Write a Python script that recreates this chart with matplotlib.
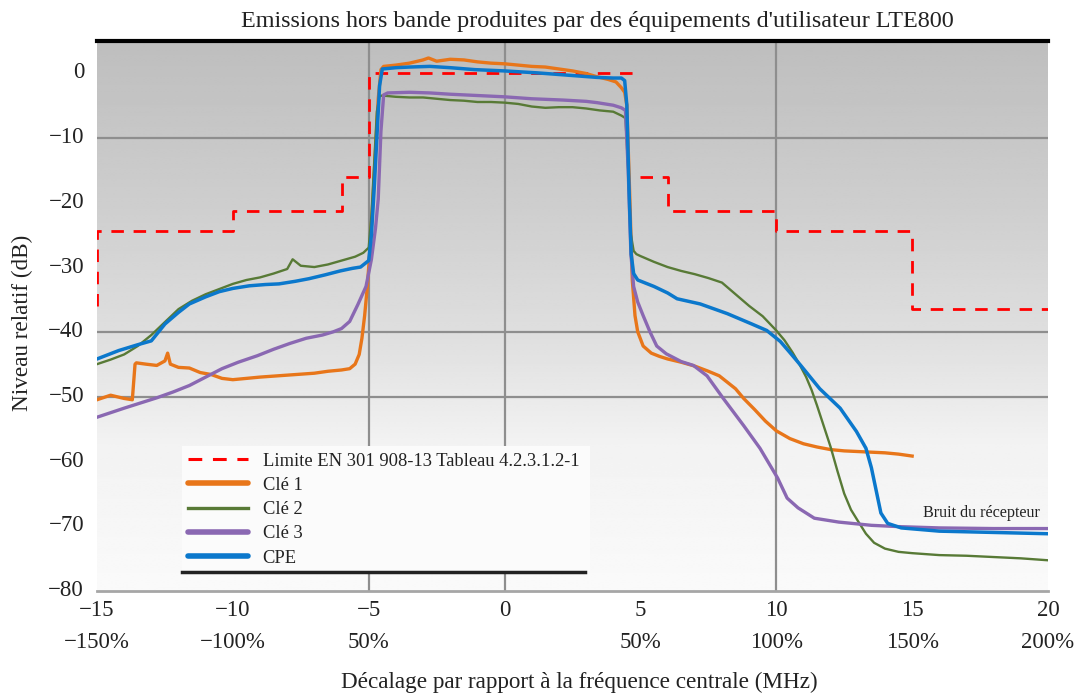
import numpy as np
import matplotlib
matplotlib.use("Agg")
import matplotlib.pyplot as plt
import matplotlib.transforms as mtransforms
from matplotlib.patches import Rectangle
from matplotlib.lines import Line2D

plt.rcParams['font.family'] = ['Liberation Serif', 'DejaVu Serif']

# ---------------- data ----------------
limit_x = [-15, -15, -10, -10, -6, -6, -5, -5, 5, np.nan, 5, 6, 6, 10, 10, 15, 15, 20]
limit_y = [-36, -24.5, -24.5, -21.3, -21.3, -16.1, -16.1, 0, 0, np.nan,
           -16.1, -16.1, -21.3, -21.3, -24.5, -24.5, -36.5, -36.5]

cle1_x = [-15, -14.5, -14.0, -13.7, -13.6, -13.55, -13.2, -12.8, -12.5, -12.4, -12.3, -12.0,
          -11.6, -11.2, -10.8, -10.4, -10.0, -9.5, -9.0, -8.0, -7.0, -6.5, -6.0, -5.7, -5.5,
          -5.35, -5.25, -5.15, -5.05, -4.95, -4.85, -4.75, -4.65, -4.55, -4.45, -4.0, -3.5,
          -3.0, -2.8, -2.5, -2.0, -1.5, -1.0, -0.5, 0, 0.5, 1.0, 1.5, 2.0, 2.5, 3.0, 3.4, 3.8,
          4.1, 4.3, 4.42, 4.5, 4.6, 4.7, 4.8, 4.9, 5.1, 5.4, 5.7, 6.0, 6.5, 7.0, 7.5, 7.9, 8.2,
          8.5, 8.8, 9.2, 9.6, 10.0, 10.5, 11.0, 11.5, 12.0, 12.5, 13.0, 13.5, 14.0, 14.5, 15.0]
cle1_y = [-50.5, -49.8, -50.3, -50.5, -45.0, -44.8, -45.0, -45.2, -44.5, -43.3, -45.0, -45.5,
          -45.6, -46.3, -46.6, -47.2, -47.4, -47.2, -47.0, -46.7, -46.4, -46.1, -45.9, -45.7, -45.0,
          -43.5, -41.0, -37.5, -33.0, -27.0, -20.0, -12.0, -4.0, 0.5, 1.0, 1.2, 1.5,
          2.0, 2.3, 1.8, 2.1, 2.0, 1.7, 1.5, 1.4, 1.2, 1.0, 0.9, 0.6, 0.3, -0.1, -0.6, -1.0,
          -1.4, -2.3, -3.0, -5.0, -18.0, -32.0, -37.5, -40.0, -42.2, -43.3, -43.8, -44.2, -44.7, -45.3, -46.1, -46.8, -47.8,
          -48.8, -50.3, -52.0, -53.8, -55.3, -56.5, -57.3, -57.8, -58.2, -58.4, -58.5, -58.6, -58.7, -58.9, -59.2]

cle2_x = [-15, -14.5, -14.0, -13.5, -13.0, -12.5, -12.0, -11.5, -11.0, -10.5, -10.0, -9.5, -9.0,
          -8.5, -8.0, -7.8, -7.5, -7.0, -6.5, -6.0, -5.5, -5.2, -5.0, -4.9, -4.8, -4.7, -4.6, -4.5,
          -4.0, -3.5, -3.0, -2.5, -2.0, -1.5, -1.0, -0.5, 0, 0.5, 1.0, 1.5, 2.0, 2.5, 3.0, 3.5,
          4.0, 4.3, 4.45, 4.55, 4.65, 4.75, 4.85, 5.0, 5.5, 6.0, 6.5, 7.0, 7.5, 8.0, 8.5, 9.0,
          9.5, 10.0, 10.3, 10.6, 10.85, 11.1, 11.3, 11.5, 11.75, 12.0, 12.25, 12.5, 12.75, 13.0,
          13.3, 13.6, 14.0, 14.5, 15.0, 16.0, 17.0, 18.0, 19.0, 20.0]
cle2_y = [-45.0, -44.3, -43.5, -42.2, -40.5, -38.5, -36.5, -35.2, -34.2, -33.4, -32.6, -32.0, -31.6,
          -31.0, -30.3, -28.8, -29.8, -30.0, -29.6, -29.0, -28.4, -27.8, -27.0, -22.0, -14.0, -6.0, -3.6, -3.5,
          -3.7, -3.8, -3.8, -4.0, -4.2, -4.3, -4.5, -4.5, -4.6, -4.8, -5.2, -5.4, -5.3, -5.3, -5.5, -5.8,
          -6.0, -6.6, -7.0, -15.0, -25.0, -27.5, -28.0, -28.3, -29.2, -30.0, -30.6, -31.1, -31.7, -32.4, -34.2, -36.0,
          -37.6, -39.8, -41.3, -43.2, -45.0, -47.0, -49.0, -51.4, -54.6, -57.8, -61.5, -65.0, -67.5, -69.2,
          -71.2, -72.6, -73.5, -74.0, -74.2, -74.5, -74.6, -74.8, -75.0, -75.3]

cle3_x = [-15, -14.5, -14.0, -13.4, -12.8, -12.2, -11.6, -11.0, -10.4, -9.8, -9.1, -8.5, -7.9,
          -7.3, -6.7, -6.3, -6.0, -5.7, -5.4, -5.1, -4.9, -4.75, -4.65, -4.55, -4.45, -4.3, -3.5,
          -2.75, -2.0, -1.0, 0, 1.0, 2.15, 3.0, 3.4, 4.0, 4.3, 4.45, 4.55, 4.65, 4.75, 4.9, 5.1,
          5.35, 5.6, 5.95, 6.5, 6.95, 7.45, 8.05, 8.8, 9.4, 10.05, 10.4, 10.8, 11.4, 12.3, 13.5,
          14.5, 16.0, 18.0, 20.0]
cle3_y = [-53.2, -52.5, -51.8, -51.0, -50.2, -49.3, -48.3, -47.0, -45.7, -44.7, -43.7, -42.7, -41.8,
          -41.0, -40.5, -40.0, -39.5, -38.4, -35.8, -33.0, -28.8, -24.0, -19.5, -9.0, -3.4, -3.1, -3.0,
          -3.1, -3.3, -3.5, -3.7, -4.0, -4.2, -4.4, -4.6, -5.0, -5.4, -5.8, -15.0, -28.0, -33.0, -35.4, -37.5,
          -40.0, -42.2, -43.4, -44.6, -45.2, -46.8, -50.3, -54.5, -58.0, -62.6, -65.7, -67.2, -68.8, -69.4, -69.9,
          -70.1, -70.3, -70.4, -70.4]

cpe_x = [-15, -14.2, -13.5, -13.0, -12.5, -12.0, -11.6, -11.0, -10.5, -10.0, -9.4, -8.8, -8.3,
         -7.7, -7.2, -6.6, -6.05, -5.6, -5.3, -5.0, -4.9, -4.8, -4.7, -4.6, -4.5, -4.0, -3.5,
         -2.75, -2.0, -1.1, 0, 1.2, 2.15, 3.4, 4.0, 4.3, 4.42, 4.5, 4.58, 4.66, 4.75, 4.9, 5.5,
         6.0, 6.35, 7.2, 8.2, 9.1, 9.65, 10.15, 10.5, 10.9, 11.6, 12.35, 12.95, 13.3, 13.5, 13.7,
         13.85, 14.1, 14.6, 16.0, 18.0, 20.0]
cpe_y = [-44.2, -42.9, -42.0, -41.4, -38.8, -37.0, -35.7, -34.6, -33.8, -33.3, -32.9, -32.7, -32.6,
         -32.2, -31.8, -31.2, -30.6, -30.2, -30.0, -29.0, -25.0, -18.0, -10.0, -2.0, 0.6, 0.8, 0.9,
         1.0, 0.8, 0.5, 0.3, 0.0, -0.3, -0.7, -0.8, -0.8, -1.2, -5.0, -18.0, -28.0, -31.0, -32.0, -33.0,
         -34.0, -34.9, -35.7, -37.2, -38.8, -39.8, -41.5, -43.2, -45.2, -48.8, -51.8, -55.4, -58.0, -61.0, -65.0,
         -68.0, -69.6, -70.3, -70.8, -71.0, -71.2]

x_ticks = [-15, -10, -5, 0, 5, 10, 15, 20]
pct_labels = ['\u2212150%', '\u2212100%', '50%', '', '50%', '100%', '150%', '200%']
y_ticks = [0, -10, -20, -30, -40, -50, -60, -70, -80]
grid_x = [-5, 0, 10]
grid_y = [-10, -40, -50]

legend_labels = ['Limite EN 301 908-13 Tableau 4.2.3.1.2-1', 'Cl\u00e9 1', 'Cl\u00e9 2', 'Cl\u00e9 3', 'CPE']

# ---------------- figure ----------------
W, H = 1080, 693
fig = plt.figure(figsize=(W / 100, H / 100), dpi=100)
ax_l, ax_r, ax_t, ax_b = 97, 1048, 40.5, 590.7
ax = fig.add_axes([ax_l / W, 1 - ax_b / H, (ax_r - ax_l) / W, (ax_b - ax_t) / H])
ax.set_xlim(-15, 20)
ax.set_ylim(-80, 5)

# gradient background
rows = np.linspace(0, 1, 200)
g = np.interp(rows, [0, 0.3, 0.55, 0.73, 1.0], [190, 206, 224, 242, 250]) / 255.0
img = np.repeat(g[:, None], 2, axis=1)
ax.imshow(img, extent=[-15, 20, -80, 5], aspect='auto', cmap='gray', vmin=0, vmax=1,
          origin='upper', zorder=0, interpolation='bilinear')

for gx in grid_x:
    ax.axvline(gx, color='#8e8e8e', lw=1.6, zorder=1)
for gy in grid_y:
    ax.axhline(gy, color='#8e8e8e', lw=1.6, zorder=1)

red = '#ff0000'
orange = '#e8761a'
green = '#587a36'
purple = '#8a68b2'
blue = '#0b78cc'

ax.plot(limit_x, limit_y, color=red, lw=2.0, ls=(0, (4.5, 3.5)), zorder=2)
ax.plot(cle1_x, cle1_y, color=orange, lw=2.4, zorder=3)
ax.plot(cle2_x, cle2_y, color=green, lw=1.7, zorder=3)
ax.plot(cle3_x, cle3_y, color=purple, lw=2.4, zorder=3)
ax.plot(cpe_x, cpe_y, color=blue, lw=2.5, zorder=4)

for s in ['left', 'right']:
    ax.spines[s].set_visible(False)
ax.spines['top'].set_color('black')
ax.spines['top'].set_linewidth(3)
ax.spines['bottom'].set_color('#a6a6a6')
ax.spines['bottom'].set_linewidth(2)
ax.set_xticks([])
ax.set_yticks([])

# tick labels
tx = mtransforms.blended_transform_factory(ax.transData, fig.transFigure)
ty = mtransforms.blended_transform_factory(fig.transFigure, ax.transData)
for xv, pl in zip(x_ticks, pct_labels):
    lab = ('\u2212%d' % -xv) if xv < 0 else '%d' % xv
    fig.text(xv, 1 - 611 / H, lab, transform=tx, ha='center', va='center', fontsize=16.5, color='#222222')
    if pl:
        fig.text(xv, 1 - 643 / H, pl, transform=tx, ha='center', va='center', fontsize=16.5, color='#222222')
for yv in y_ticks:
    lab = ('\u2212%d' % -yv) if yv < 0 else '%d' % yv
    fig.text(84 / W, yv, lab, transform=ty, ha='right', va='center', fontsize=16.5, color='#222222')

fig.text(597 / W, 1 - 21 / H, "Emissions hors bande produites par des \u00e9quipements d'utilisateur LTE800",
         ha='center', va='center', fontsize=17.4, color='#222222')
fig.text(579 / W, 1 - 682 / H, "D\u00e9calage par rapport \u00e0 la fr\u00e9quence centrale (MHz)",
         ha='center', va='center', fontsize=16.7, color='#222222')
fig.text(22 / W, 1 - 323 / H, "Niveau relatif (dB)", rotation=90,
         ha='center', va='center', fontsize=16.7, color='#222222')

ax.text(17.55, -68.0, 'Bruit du r\u00e9cepteur', ha='center', va='center', fontsize=11.6,
        color='#222222', zorder=6)

# legend box
def ax_frac(px, py):
    return ((px - ax_l) / (ax_r - ax_l), (ax_b - py) / (ax_b - ax_t))

x0, y1 = ax_frac(182, 446)
x1, y0 = ax_frac(590, 572)
ax.add_patch(Rectangle((x0, y0), x1 - x0, y1 - y0, transform=ax.transAxes,
                       facecolor='#fbfbfb', edgecolor='none', zorder=5))
ax.add_line(Line2D([x0, ax_frac(585, 0)[0]], [y0, y0], transform=ax.transAxes,
                   color='#222222', lw=2.5, zorder=6))

handles = [Line2D([], [], color=red, lw=2.2, ls=(0, (4.5, 3.5))),
           Line2D([], [], color=orange, lw=4.0, solid_capstyle='round'),
           Line2D([], [], color=green, lw=2.4),
           Line2D([], [], color=purple, lw=4.0, solid_capstyle='round'),
           Line2D([], [], color=blue, lw=4.0, solid_capstyle='round')]
lx, ly = ax_frac(184, 449)
leg = ax.legend(handles, legend_labels, loc='upper left', bbox_to_anchor=(lx, ly),
                frameon=False, fontsize=13.3, handlelength=3.25, handletextpad=0.8,
                labelspacing=0.39, borderaxespad=0, borderpad=0.2)
leg.set_zorder(7)
for t in leg.get_texts():
    t.set_color('#222222')

fig.savefig('out.png', dpi=100)
